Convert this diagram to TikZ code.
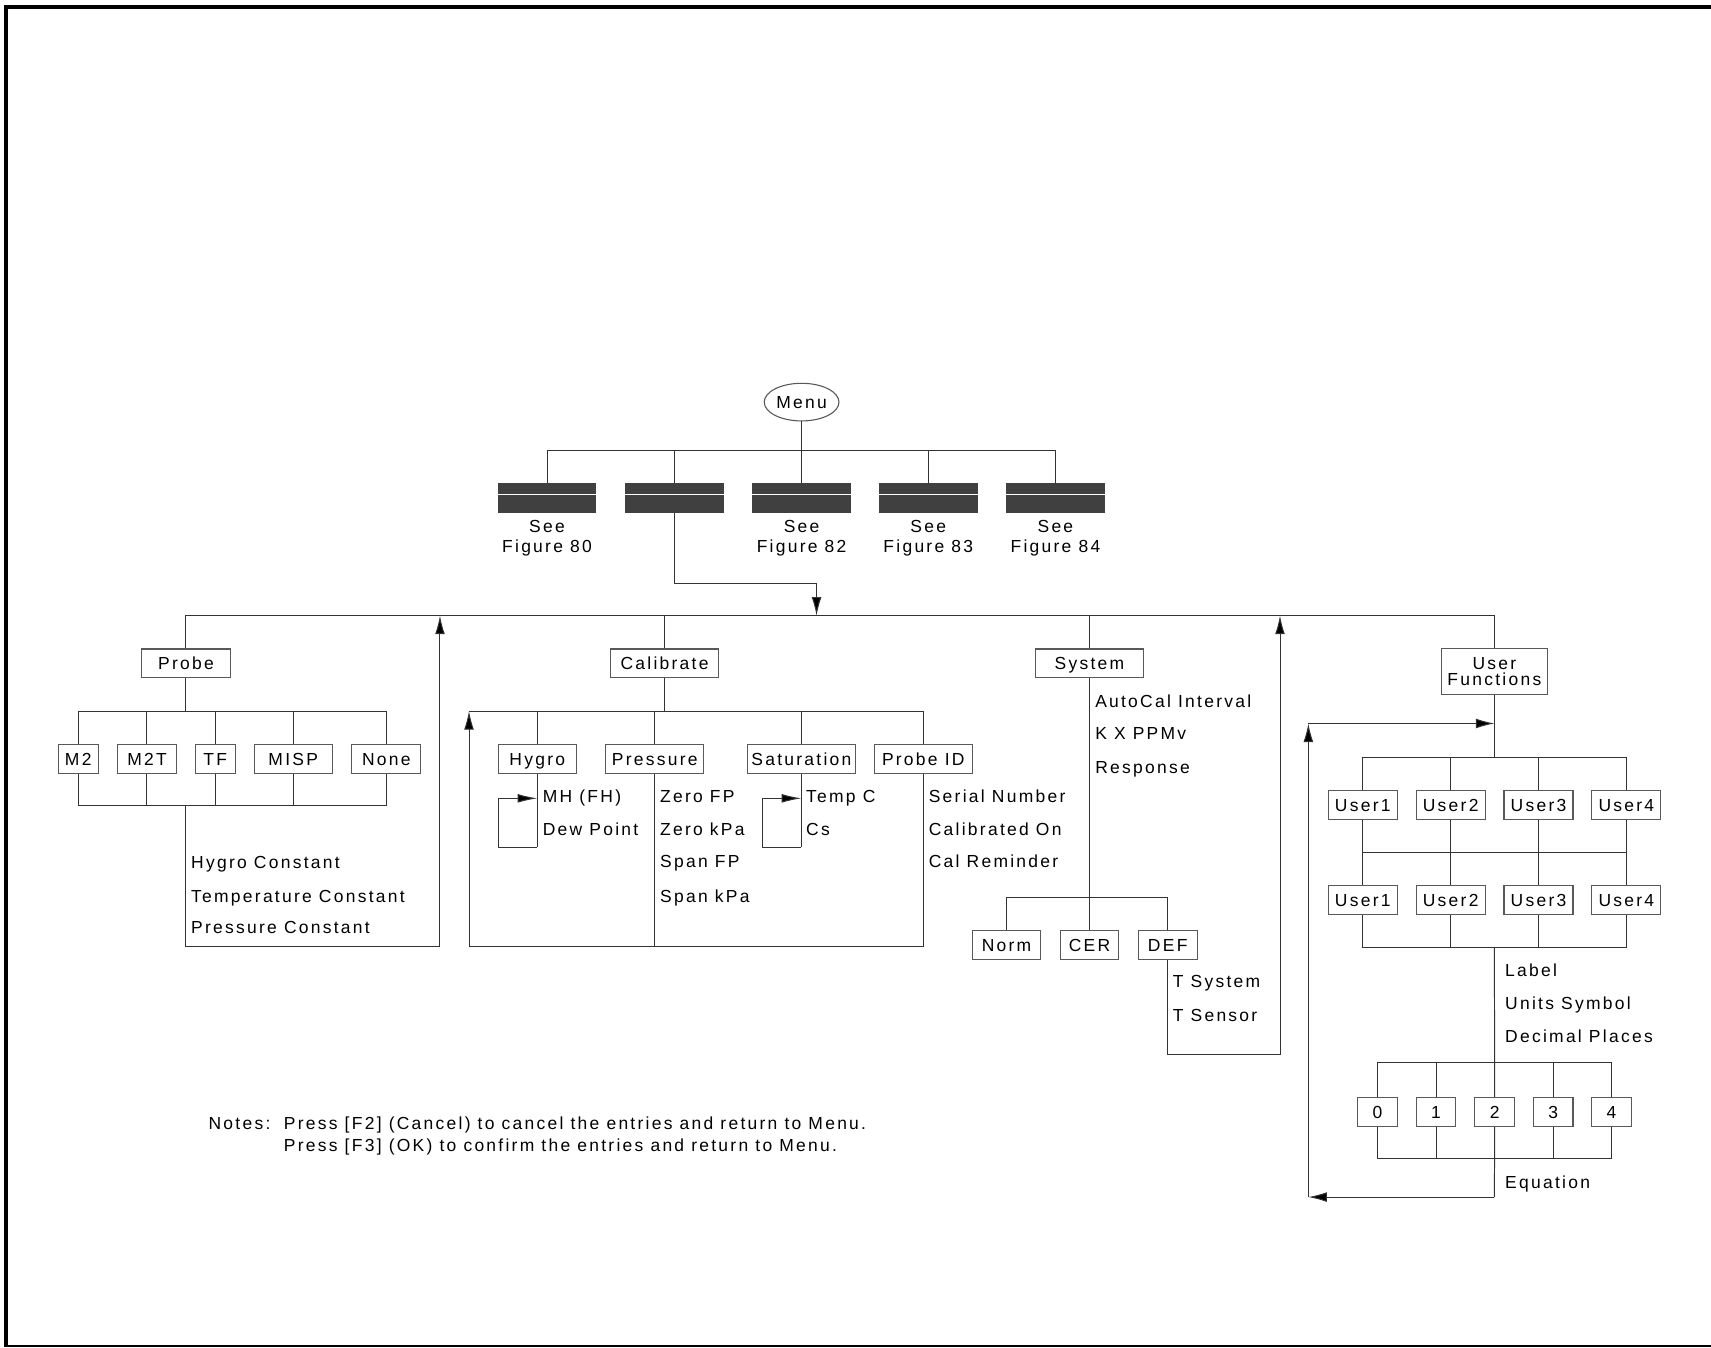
\documentclass[tikz,border=0pt]{standalone}
\usepackage{fontspec}
\usetikzlibrary{arrows.meta,shapes.geometric}
\newfontfamily\lf{Liberation Sans}[LetterSpace=13]
\newcommand\lbl{\lf\fontsize{16}{16}\selectfont}
\begin{document}
\begin{tikzpicture}[x=1pt,y=-1pt,
  ln/.style={draw=black!80,line width=0.9pt},
  bx/.style={draw=black!65,line width=1pt,fill=white,minimum height=26.5pt,inner sep=0pt,text height=11.6pt,text depth=0pt,font=\lbl},
  dk/.style={fill=black!75,minimum width=90.5pt,minimum height=27pt,inner sep=0pt},
  tx/.style={anchor=base west,inner sep=0pt,font=\lbl},
  ctx/.style={anchor=base,inner sep=0pt,font=\lbl},
  arr/.style={-{Latex[length=17pt,width=9pt,fill=black]}},
  sarr/.style={-{Latex[length=18pt,width=8pt,fill=black]}}]
\useasboundingbox (0,0) rectangle (1568,1235);
\fill[white] (0,0) rectangle (1568,1235);
% frame
\draw[line width=3.5pt] (4,6.3) -- (1568,6.3);
\draw[line width=3pt] (5.5,4.5) -- (5.5,1234);
\draw[line width=1.5pt] (4,1233.5) -- (1568,1233.5);

% top level
\node[draw=black!65,line width=1pt,ellipse,minimum width=68.5pt,minimum height=34.5pt,inner sep=0pt,font=\lbl,text height=11.6pt,text depth=0pt] (menu) at (734.6,368.5) {Menu};
\foreach \i/\x in {1/501.3,2/617.9,3/734.6,4/850.7,5/967.2}{
  \node[dk] (d\i) at (\x,456.4) {};
  \draw[white,line width=0.8pt] ([yshift=3.4pt]d\i.west) -- ([yshift=3.4pt]d\i.east);
}
\coordinate (tb) at (734.6,412.4);
\draw[ln] (menu.south) -- (tb);
\draw[ln] (d1.north) |- (tb) -| (d5.north);
\draw[ln] (d2.north) -- (d2.north |- tb);
\draw[ln] (d3.north) -- (d3.north |- tb);
\draw[ln] (d4.north) -- (d4.north |- tb);
\node[ctx] (s1) at (501.3,487.8) {See};
\node[ctx] (f1) at (501.3,506.3) {Figure 80};
\node[ctx] (s3) at (734.6,487.8) {See};
\node[ctx] (f3) at (734.6,506.3) {Figure 82};
\node[ctx] (s4) at (850.7,487.8) {See};
\node[ctx] (f4) at (850.7,506.3) {Figure 83};
\node[ctx] (s5) at (967.2,487.8) {See};
\node[ctx] (f5) at (967.2,506.3) {Figure 84};

\coordinate (j2) at (748.3,534.5);
\coordinate (mb) at (748.3,564.2);
\draw[ln,arr] (d2.south) |- (j2) -- (mb);

% second level
\node[bx,minimum width=81pt] (probe) at (170.4,608) {Probe};
\node[bx,minimum width=98.7pt] (calib) at (609,608) {Calibrate};
\node[bx,minimum width=98.7pt] (system) at (998.4,608) {System};
\node[draw=black!65,line width=1pt,fill=white,minimum width=97pt,minimum height=42pt,inner sep=0pt] (uf) at (1369.5,615.5) {};
\node[ctx] (ufa) at (1369.5,613.8) {User};
\node[ctx] (ufb) at (1369.5,627.8) {Functions};
\draw[ln] (probe.north) |- (mb) -| (uf.north);
\draw[ln] (calib.north) -- (calib.north |- mb);
\draw[ln] (system.north) -- (system.north |- mb);

% probe
\node[bx,minimum width=36.6pt] (m2) at (71.7,695.4) {M2};
\node[bx,minimum width=54.4pt] (m2t) at (134.7,695.4) {M2T};
\node[bx,minimum width=36.4pt] (tf) at (197.2,695.4) {TF};
\node[bx,minimum width=71.7pt] (misp) at (268.7,695.4) {MISP};
\node[bx,minimum width=63.2pt] (none) at (354,695.4) {None};
\coordinate (pb) at (170.4,651.6);
\coordinate (pl) at (170.4,738.6);
\coordinate (pr) at (170.4,867.5);
\coordinate (pa) at (403.2,867.5);
\draw[ln] (probe.south) -- (pb);
\draw[ln] (m2.north) |- (pb) -| (none.north);
\draw[ln] (m2t.north) -- (m2t.north |- pb);
\draw[ln] (tf.north) -- (tf.north |- pb);
\draw[ln] (misp.north) -- (misp.north |- pb);
\draw[ln] (m2.south) |- (pl) -| (none.south);
\draw[ln] (m2t.south) -- (m2t.south |- pl);
\draw[ln] (tf.south) -- (tf.south |- pl);
\draw[ln] (misp.south) -- (misp.south |- pl);
\draw[ln,arr] (pl) -- (pr) -- (pa) -- (pa |- mb);
\node[tx] (hc) at (175,795.5) {Hygro Constant};
\node[tx] (tc) at (175,826.6) {Temperature Constant};
\node[tx] (pc) at (175,855.9) {Pressure Constant};

% calibrate
\node[bx,minimum width=71.8pt] (hyg) at (492.4,695.4) {Hygro};
\node[bx,minimum width=89.5pt] (press) at (600,695.4) {Pressure};
\node[bx,minimum width=99pt] (sat) at (734.4,695.4) {Saturation};
\node[bx,minimum width=89.6pt] (pid) at (846.1,695.4) {Probe ID};
\coordinate (cb) at (609,651.6);
\coordinate (cl) at (429.8,651.6);
\coordinate (cr) at (429.8,867.5);
\draw[ln] (calib.south) -- (cb);
\draw[ln] (hyg.north) |- (cb) -| (pid.north);
\draw[ln] (cl) -- (hyg.north |- cb);
\draw[ln] (press.north) -- (press.north |- cb);
\draw[ln] (sat.north) -- (sat.north |- cb);
\draw[ln] (press.south) -- (press.south |- cr);
\draw[ln,arr] (pid.south) |- (cr) -- (cl);
\coordinate (hl1) at (492.4,776.5);
\coordinate (hl2) at (456.7,776.5);
\coordinate (hl3) at (456.7,731.6);
\coordinate (hl4) at (492.4,731.6);
\draw[ln] (hyg.south) -- (hl1);
\draw[ln,sarr] (hl1) -- (hl2) -- (hl3) -- (hl4);
\coordinate (sl1) at (734.4,776.5);
\coordinate (sl2) at (698.6,776.5);
\coordinate (sl3) at (698.6,731.6);
\coordinate (sl4) at (734.4,731.6);
\draw[ln] (sat.south) -- (sl1);
\draw[ln,sarr] (sl1) -- (sl2) -- (sl3) -- (sl4);
\node[tx] (mh) at (497.3,735.3) {MH (FH)};
\node[tx] (dp) at (497.3,765.8) {Dew Point};
\node[tx] (zf) at (604.8,735.3) {Zero FP};
\node[tx] (zk) at (604.8,765.8) {Zero kPa};
\node[tx] (sf) at (604.8,795.4) {Span FP};
\node[tx] (sk) at (604.8,826.6) {Span kPa};
\node[tx] (tcc) at (738.6,735.3) {Temp C};
\node[tx] (cs) at (738.6,765.8) {Cs};
\node[tx] (sn) at (851,735.3) {Serial Number};
\node[tx] (co) at (851,765.8) {Calibrated On};
\node[tx] (cm) at (851,795.4) {Cal Reminder};

% system
\node[tx] (aci) at (1003.5,647.9) {AutoCal Interval};
\node[tx] (kx) at (1003.5,677.8) {K X PPMv};
\node[tx] (rsp) at (1003.5,708.4) {Response};
\node[bx,minimum width=62.7pt] (norm) at (922.4,866) {Norm};
\node[bx,minimum width=53.5pt] (cer) at (998.4,866) {CER};
\node[bx,minimum width=53.8pt] (def) at (1070.1,866) {DEF};
\coordinate (sb) at (998.4,822.3);
\coordinate (sr) at (1173,965.9);
\draw[ln] (system.south) -- (sb);
\draw[ln] (norm.north) |- (sb) -| (def.north);
\draw[ln] (cer.north) -- (sb);
\draw[ln,arr] (def.south) |- (sr) -- (sr |- mb);
\node[tx] (tsy) at (1074.6,905.4) {T System};
\node[tx] (tse) at (1074.6,936) {T Sensor};

% user functions
\coordinate (ua) at (1369.5,663);
\coordinate (ub) at (1369.5,694);
\coordinate (um) at (1369.5,781);
\coordinate (ul) at (1369.5,868.5);
\coordinate (db) at (1369.5,974);
\coordinate (dl) at (1369.5,1062);
\coordinate (ue) at (1369.5,1097);
\coordinate (uc) at (1199,1097);
\coordinate (ud) at (1199,663);
\foreach \i/\x in {1/1248.9,2/1329.4,3/1409.9,4/1490.4}{
  \node[bx,minimum width=63.2pt] (u\i) at (\x,737.5) {User\i};
  \node[bx,minimum width=63.2pt] (v\i) at (\x,825) {User\i};
}
\draw[ln] (uf.south) -- (ub);
\draw[ln] (u1.north) |- (ub) -| (u4.north);
\draw[ln] (u2.north) -- (u2.north |- ub);
\draw[ln] (u3.north) -- (u3.north |- ub);
\foreach \i in {1,2,3,4}{ \draw[ln] (u\i.south) -- (v\i.north); }
\draw[ln] (u1.south |- um) -- (u4.south |- um);
\draw[ln] (v1.south) |- (ul) -| (v4.south);
\draw[ln] (v2.south) -- (v2.south |- ul);
\draw[ln] (v3.south) -- (v3.south |- ul);
\node[tx] (lab) at (1379.2,895.3) {Label};
\node[tx] (usy) at (1379.2,925.3) {Units Symbol};
\node[tx] (dcp) at (1379.2,955.8) {Decimal Places};
\foreach \i/\x in {0/1262.4,1/1316,2/1369.7,3/1423.4,4/1476.8}{
  \node[bx,minimum width=36.3pt] (n\i) at (\x,1019) {\i};
}
\draw[ln] (ul) -- (n2.north);
\draw[ln] (n0.north) |- (db) -| (n4.north);
\draw[ln] (n1.north) -- (n1.north |- db);
\draw[ln] (n3.north) -- (n3.north |- db);
\draw[ln] (n0.south) |- (dl) -| (n4.south);
\draw[ln] (n1.south) -- (n1.south |- dl);
\draw[ln] (n3.south) -- (n3.south |- dl);
\draw[ln] (n2.south) -- (ue);
\node[tx] (eq) at (1379.2,1089.3) {Equation};
\draw[ln,arr] (ue) -- (uc);
\draw[ln,arr] (uc) -- (ud);
\draw[ln,arr] (ud) -- (ua);

% notes
\node[tx] (nts) at (191,1034.8) {Notes:};
\node[tx] (nl1) at (260,1034.8) {Press [F2] (Cancel) to cancel the entries and return to Menu.};
\node[tx] (nl2) at (260,1054.8) {Press [F3] (OK) to confirm the entries and return to Menu.};
\end{tikzpicture}
\end{document}
